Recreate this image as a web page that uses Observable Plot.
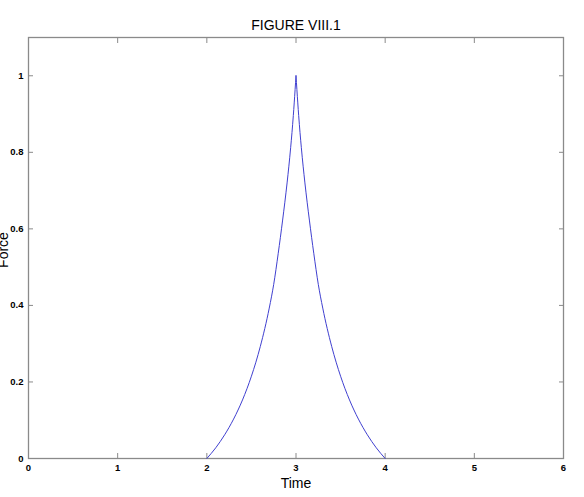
<!DOCTYPE html>
<html>
<head>
<meta charset="utf-8">
<script src="https://cdn.jsdelivr.net/npm/d3@7"></script>
<script src="https://cdn.jsdelivr.net/npm/@observablehq/plot@0.6"></script>
<style>
  html, body { margin: 0; padding: 0; background: #fff; }
  #chart svg { display: block; }
</style>
</head>
<body>
<div id="chart"></div>
<script>
const title = "FIGURE VIII.1";
const xLabel = "Time";
const yLabel = "Force";

// rising branch
const riseTime  = [2.00, 2.10, 2.20, 2.30, 2.40, 2.50, 2.60, 2.70, 2.75, 2.80, 2.85, 2.90, 2.94, 2.97, 2.99, 3.00];
const riseForce = [0.000, 0.028, 0.062, 0.103, 0.153, 0.215, 0.293, 0.393, 0.455, 0.535, 0.623, 0.720, 0.812, 0.896, 0.964, 1.000];
// falling branch
const fallTime  = [3.00, 3.01, 3.03, 3.06, 3.10, 3.15, 3.20, 3.25, 3.30, 3.40, 3.50, 3.60, 3.70, 3.80, 3.90, 4.00];
const fallForce = [1.000, 0.964, 0.896, 0.812, 0.720, 0.623, 0.535, 0.455, 0.393, 0.293, 0.215, 0.153, 0.103, 0.062, 0.028, 0.000];

const xTicks = [0, 1, 2, 3, 4, 5, 6];
const yTicks = [0, 0.2, 0.4, 0.6, 0.8, 1];
const xDomain = [0, 6];
const yDomain = [0, 1.1];

const data = [
  ...riseTime.map((t, i) => ({time: t, force: riseForce[i], branch: "rise"})),
  ...fallTime.map((t, i) => ({time: t, force: fallForce[i], branch: "fall"}))
];

const axisColor = "#8a8a8a";
const fmt = d3.format("~g");

const chart = Plot.plot({
  width: 584,
  height: 497,
  marginLeft: 28,
  marginRight: 21,
  marginTop: 37,
  marginBottom: 39,
  style: {fontFamily: "'Liberation Sans', Arial, Helvetica, sans-serif", background: "#fff", color: "#000"},
  x: {domain: xDomain},
  y: {domain: yDomain},
  marks: [
    Plot.frame({stroke: axisColor, strokeWidth: 1.3}),
    Plot.axisX({anchor: "bottom", ticks: xTicks, tickSize: -5, tickPadding: 11, tickFormat: fmt, stroke: axisColor, fontSize: 9.5, fontWeight: "bold", fill: "#000", label: null}),
    Plot.axisX({anchor: "top", ticks: xTicks, tickSize: -5, tickFormat: () => "", stroke: axisColor, label: null}),
    Plot.axisY({anchor: "left", ticks: yTicks, tickSize: -5, tickPadding: 10, tickFormat: fmt, stroke: axisColor, fontSize: 9.5, fontWeight: "bold", fill: "#000", label: null}),
    Plot.axisY({anchor: "right", ticks: yTicks, tickSize: -5, tickFormat: () => "", stroke: axisColor, label: null}),
    Plot.line(data, {x: "time", y: "force", z: "branch", stroke: "#4040d0", strokeWidth: 1, curve: "monotone-x"}),
    Plot.text([title], {frameAnchor: "top", dy: -17, fontSize: 14, fill: "#000"}),
    Plot.text([xLabel], {frameAnchor: "bottom", dy: 29, fontSize: 14, fill: "#000"}),
    Plot.text([yLabel], {frameAnchor: "left", textAnchor: "middle", dx: -25, dy: 2, rotate: -90, fontSize: 14, fill: "#000"})
  ]
});
document.getElementById("chart").appendChild(chart);
</script>
</body>
</html>
